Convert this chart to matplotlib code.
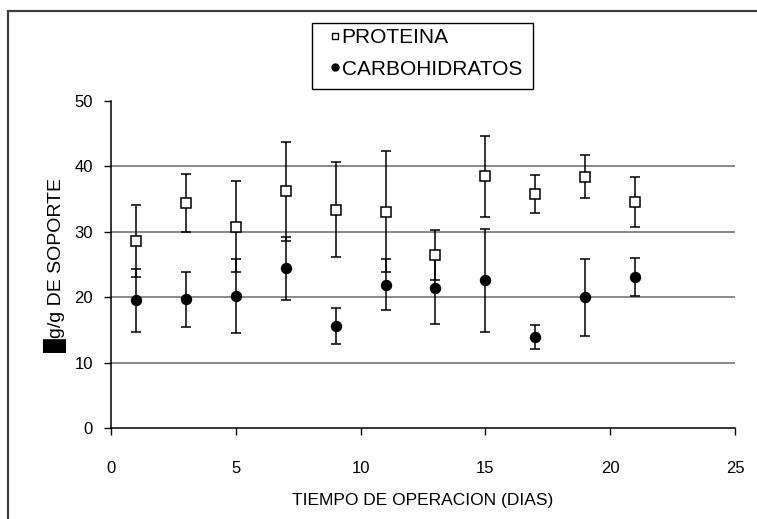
import matplotlib
matplotlib.use("Agg")
import matplotlib.pyplot as plt
from matplotlib.lines import Line2D
from matplotlib.patches import Rectangle

days = [1, 3, 5, 7, 9, 11, 13, 15, 17, 19, 21]
proteina = [28.6, 34.4, 30.8, 36.2, 33.4, 33.1, 26.4, 38.5, 35.8, 38.4, 34.6]
proteina_err = [5.5, 4.5, 6.9, 7.6, 7.3, 9.3, 3.8, 6.2, 2.9, 3.3, 3.8]
carbohidratos = [19.5, 19.7, 20.2, 24.4, 15.6, 21.9, 21.4, 22.6, 13.9, 20.0, 23.1]
carbohidratos_err = [4.8, 4.2, 5.6, 4.8, 2.7, 3.9, 5.5, 7.9, 1.8, 5.9, 2.9]
x_ticks = [0, 5, 10, 15, 20, 25]
y_ticks = [0, 10, 20, 30, 40, 50]
x_label = "TIEMPO DE OPERACION (DIAS)"
y_label = "\u2588g/g DE SOPORTE"
labels = ["PROTEINA", "CARBOHIDRATOS"]

plt.rcParams['font.family'] = ['Liberation Sans', 'DejaVu Sans']
W, H = 757, 519
fig = plt.figure(figsize=(W / 100, H / 100), dpi=100)

# outer frame
fig.patches.append(Rectangle((8 / W, -0.1), 1.2, 1.1 - 11 / H, transform=fig.transFigure,
                             fill=False, edgecolor='#3c3c3c', linewidth=1.6, zorder=0))
# legend box
fig.patches.append(Rectangle((312 / W, 1 - 89 / H), 221 / W, 66 / H, transform=fig.transFigure,
                             fill=True, facecolor='white', edgecolor='black', linewidth=1.0, zorder=1))

ax = fig.add_axes([111 / W, 1 - 428 / H, 624 / W, 327 / H])
ax.set_xlim(0, 25)
ax.set_ylim(0, 50)
ax.set_xticks(x_ticks)
ax.set_yticks(y_ticks)
for s in ['top', 'right']:
    ax.spines[s].set_visible(False)
for s in ['left', 'bottom']:
    ax.spines[s].set_linewidth(1.1)
for yv in y_ticks[1:-1]:
    ax.axhline(yv, color='#808080', linewidth=1.3, zorder=1)

ax.tick_params(axis='both', direction='out', length=5, width=1.0, labelsize=12, colors='black')
ax.tick_params(axis='x', pad=19)
ax.tick_params(axis='y', pad=8)

ax.errorbar(days, carbohidratos, yerr=carbohidratos_err, fmt='o', color='black',
            markersize=7.2, ecolor='black', elinewidth=1.1, capsize=3.8, capthick=1.1, zorder=3)
ax.errorbar(days, proteina, yerr=proteina_err, fmt='s', markerfacecolor='white',
            markeredgecolor='black', markeredgewidth=1.1, markersize=6.6, ecolor='black',
            elinewidth=1.1, capsize=3.8, capthick=1.1, zorder=4)

ax.set_xlabel(x_label, fontsize=12.5, labelpad=12)
ax.set_ylabel(y_label, fontsize=14)
ax.yaxis.set_label_coords(-0.0705, 0.5)

handles = [Line2D([], [], linestyle='none', marker='s', markersize=4.3, markerfacecolor='white',
                  markeredgecolor='black', markeredgewidth=1.0),
           Line2D([], [], linestyle='none', marker='o', markersize=5, markerfacecolor='black',
                  markeredgecolor='black')]
leg = fig.legend(handles, labels, loc='upper left',
                 bbox_to_anchor=(325 / W, 1 - 24 / H), bbox_transform=fig.transFigure,
                 fontsize=15, frameon=False, handlelength=0.6, handletextpad=0.0,
                 labelspacing=0.6, borderpad=0.2, borderaxespad=0)
leg.set_zorder(5)

fig.savefig("out.png", dpi=100)
